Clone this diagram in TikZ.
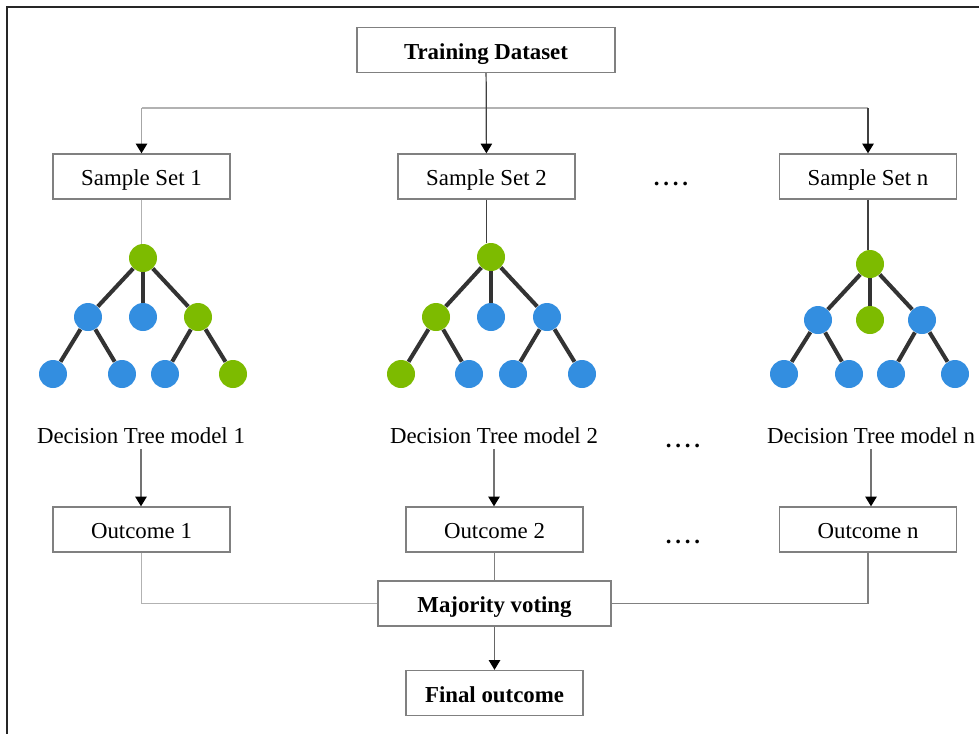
\documentclass[tikz,border=0pt]{standalone}
\usepackage{fontspec}
\setmainfont{Liberation Serif}
\usetikzlibrary{arrows.meta}
\definecolor{leafgreen}{HTML}{7DBB00}
\definecolor{leafblue}{HTML}{338EE0}
\tikzset{
  box/.style={draw=black!50, line width=0.8pt, minimum width=3.54cm, minimum height=0.9cm, inner sep=0pt, text height=10.5pt, text depth=0pt},
  boldtext/.style={font=\fontsize{13}{15}\selectfont\bfseries},
  gn/.style={circle, fill=leafgreen, minimum size=0.56cm, inner sep=0pt},
  bn/.style={circle, fill=leafblue, minimum size=0.56cm, inner sep=0pt},
  branch/.style={draw=black!80, line width=2.3pt},
  link/.style={draw=black!30, line width=0.8pt},
  flow/.style={line width=0.7pt, -{Triangle[length=5.5pt,width=6.5pt,color=black]}},
  gapdots/.style={anchor=base, font=\fontsize{13}{15}\selectfont\bfseries},
}
\newcommand{\gapmark}{.\,.\,.\,.}
\begin{document}
\begin{tikzpicture}[x=0.02cm, y=-0.02cm, font=\fontsize{13}{15}\selectfont]
                \useasboundingbox (0,0) rectangle (979,734);
                \draw[black!85, line width=0.8pt] (979,7) -- (7,7) -- (7,734);
                % boxes
                \node[box, boldtext, minimum width=5.16cm] (train) at (486,50) {Training Dataset};
                \node[box] (set1) at (141.5,176.5) {Sample Set 1};
                \node[box] (set2) at (486.5,176.5) {Sample Set 2};
                \node[box] (setn) at (868,176.5) {Sample Set n};
                \node[gapdots] (gap1) at (671,185) {\gapmark};
                % trees
                \node[gn] (t1r) at (143,258) {};
                \node[bn] (t1a) at (88,317) {};
                \node[bn] (t1b) at (143,317) {};
                \node[gn] (t1c) at (198,317) {};
                \node[bn] (t1aa) at (53,374) {};
                \node[bn] (t1ab) at (122,374) {};
                \node[bn] (t1ca) at (165,374) {};
                \node[gn] (t1cb) at (233,374) {};
                \node[gn] (t2r) at (491,257) {};
                \node[gn] (t2a) at (436,317) {};
                \node[bn] (t2b) at (491,317) {};
                \node[bn] (t2c) at (547,317) {};
                \node[gn] (t2aa) at (401,374) {};
                \node[bn] (t2ab) at (469,374) {};
                \node[bn] (t2ca) at (513,374) {};
                \node[bn] (t2cb) at (582,374) {};
                \node[gn] (tnr) at (870,264) {};
                \node[bn] (tna) at (818,320) {};
                \node[gn] (tnb) at (870,320) {};
                \node[bn] (tnc) at (922,320) {};
                \node[bn] (tnaa) at (784,374) {};
                \node[bn] (tnab) at (849,374) {};
                \node[bn] (tnca) at (891,374) {};
                \node[bn] (tncb) at (955,374) {};
                \foreach \t in {1,2,n}
                    \foreach \a/\b in {r/a, r/b, r/c, a/aa, a/ab, c/ca, c/cb}
                        \draw[branch] (t\t\a) -- (t\t\b);
                \node[anchor=base] (dt1) at (141,443) {Decision Tree model 1};
                \node[anchor=base] (dt2) at (494,443) {Decision Tree model 2};
                \node[anchor=base] (dtn) at (871,443) {Decision Tree model n};
                \node[gapdots] (gap2) at (683,447) {\gapmark};
                % outcomes
                \node[box] (out1) at (141.5,529.5) {Outcome 1};
                \node[box] (out2) at (494.5,529.5) {Outcome 2};
                \node[box] (outn) at (868,529.5) {Outcome n};
                \node[gapdots] (gap3) at (683,543) {\gapmark};
                \node[box, boldtext, minimum width=4.66cm] (vote) at (494.5,603.5) {Majority voting};
                \node[box, boldtext] (final) at (494.5,693) {Final outcome};
                % connectors
                \coordinate (splitl) at (141.5,108);
                \coordinate (splitr) at (868,108);
                \draw[link] (splitl) -- (splitr);
                \draw[flow, black!75] (train) -- (set2);
                \draw[flow, black!35] (splitl) -- (set1);
                \draw[flow, black!75] (splitr) -- (setn);
                \draw[link] (set1) -- (set1 |- t1r.north);
                \draw[black!75, line width=0.7pt] (set2) -- (set2 |- t2r.north);
                \draw[black!75, line width=0.7pt] (setn) -- (setn |- tnr.north);
                \draw[flow, black!55] (dt1.south) -- (dt1.south |- out1.north);
                \draw[flow, black!55] (dt2.south) -- (dt2.south |- out2.north);
                \draw[flow, black!55] (dtn.south) -- (dtn.south |- outn.north);
                \draw[link] (out1) |- (vote);
                \draw[black!50, line width=0.7pt] (outn) |- (vote);
                \draw[black!50, line width=0.7pt] (out2) -- (vote);
                \draw[flow, black!60] (vote) -- (final);
\end{tikzpicture}
\end{document}
